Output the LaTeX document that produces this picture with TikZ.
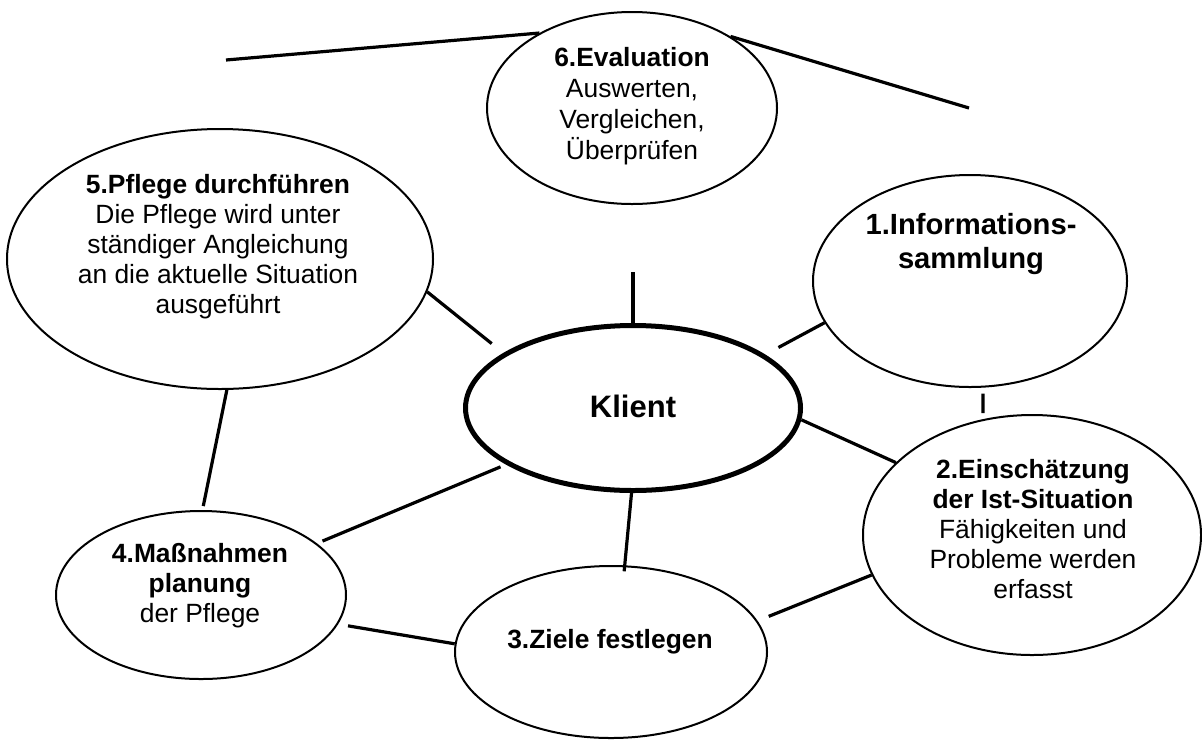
\documentclass[tikz,border=0pt]{standalone}
\usepackage{fontspec}
\setmainfont{Liberation Sans}
\usetikzlibrary{shapes.geometric}
\tikzset{
	phase/.style={draw,ellipse,line width=1pt,fill=white,inner sep=0pt},
	link/.style={line width=1.6pt},
	txt/.style={align=center,font=\fontsize{13.2}{15}\selectfont},
}
\begin{document}
\begin{tikzpicture}[x=0.5pt,y=0.5pt]
		\useasboundingbox (0,0) rectangle (1202,-740);
		% ellipses
		\node [phase,minimum width=145pt,minimum height=96pt] (eval) at (632,-108) {};
		\node [phase,minimum width=213pt,minimum height=130pt] (pflege) at (220,-259) {};
		\node [phase,minimum width=157pt,minimum height=106pt] (info) at (970,-281) {};
		\node [phase,line width=2.5pt,minimum width=167.5pt,minimum height=82.5pt] (klient) at (633,-408) {};
		\node [phase,minimum width=169pt,minimum height=120pt] (ein) at (1032,-535) {};
		\node [phase,minimum width=145pt,minimum height=84pt] (mass) at (201,-595) {};
		\node [phase,minimum width=156pt,minimum height=86pt] (ziele) at (611,-652) {};
		% texts
		\node [txt,font=\fontsize{13.2}{15.6}\selectfont] (evalT) at (632,-106) {\textbf{6.Evaluation}\\Auswerten,\\Vergleichen,\\Überprüfen};
		\node [txt] (pflegeT) at (218,-247) {\textbf{5.Pflege durchführen}\\Die Pflege wird unter\\ständiger Angleichung\\an die aktuelle Situation\\ausgeführt};
		\node [txt,font=\fontsize{14.6}{17}\selectfont\bfseries] (infoT) at (971,-244) {1.Informations-\\sammlung};
		\node [txt,font=\fontsize{15.5}{18}\selectfont\bfseries] (klientT) at (633,-406) {Klient};
		\node [txt] (einT) at (1033,-529) {\textbf{2.Einschätzung}\\\textbf{der Ist-Situation}\\Fähigkeiten und\\Probleme werden\\erfasst};
		\node [txt] (massT) at (200,-586) {\textbf{4.Maßnahmen}\\\textbf{planung}\\der Pflege};
		\node [txt,font=\fontsize{13.2}{15}\selectfont\bfseries] (zieleT) at (610,-642) {3.Ziele festlegen};
		% free ends
		\coordinate (lfree) at (226,-60);
		\coordinate (rfree) at (969,-108);
		\coordinate (ktop) at (633,-272);
		% connectors
		\draw [link] (lfree) -- (eval.141.7);
		\draw [link] (eval.36.7) -- (rfree);
		\draw [link] (klient.north) -- (ktop);
		\draw [link,shorten <=7.5pt] (klient.22.5) -- (info.196.5);
		\draw [link,shorten <=7.5pt] (klient.157.5) -- (pflege.-9);
		\draw [link,shorten <=3pt,shorten >=3pt] (klient.204) -- (mass.24);
		\draw [link,shorten >=-3pt] (klient.-91) -- (ziele.81);
		\draw [link] (klient.-4.7) -- (ein.152);
		\draw [link,shorten <=3pt,shorten >=3pt] (info.-83) -- (ein.113);
		\draw [link,shorten >=6pt] (ein.194) -- (ziele.12.6);
		\draw [link,shorten >=5pt] (ziele.177.8) -- (mass.-12.8);
		\draw [link,shorten <=2pt] (mass.89) -- (pflege.-87);
\end{tikzpicture}
\end{document}
